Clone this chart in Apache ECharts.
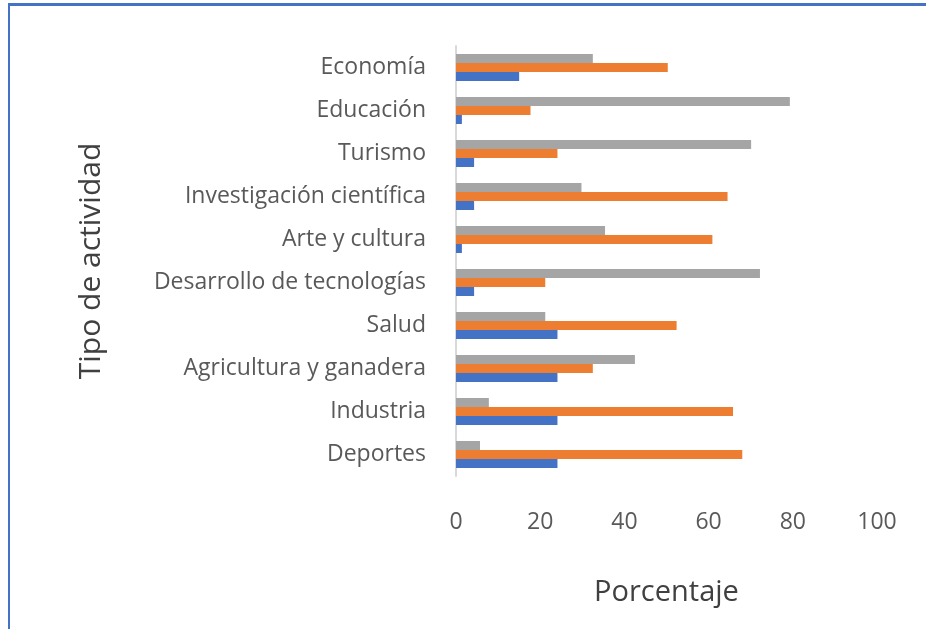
<!DOCTYPE html>
<html>
<head>
<meta charset="utf-8">
<script src="https://cdn.jsdelivr.net/npm/echarts@6/dist/echarts.min.js"></script>
<style>
  html, body { margin: 0; padding: 0; background: #fff; }
  #frame {
    position: absolute;
    left: 8px;
    top: 3px;
    width: 918px;
    height: 626px;
    border-left: 2px solid #4472C4;
    border-top: 3px solid #4472C4;
    box-sizing: border-box;
  }
  #main { position: absolute; left: 0; top: 0; width: 926px; height: 629px; }
</style>
</head>
<body>
<div id="frame"></div>
<div id="main"></div>
<script>
// categories bottom -> top, as in the original sheet
var categorias = ['Deportes', 'Industria', 'Agricultura y ganadera', 'Salud',
  'Desarrollo de tecnologías', 'Arte y cultura', 'Investigación científica',
  'Turismo', 'Educación', 'Economía'];
var serieAzul = [24.1, 24.1, 24.1, 24.1, 4.3, 1.4, 4.3, 4.3, 1.4, 15];
var serieNaranja = [68, 65.8, 32.5, 52.4, 21.2, 60.9, 64.5, 24.1, 17.7, 50.3];
var serieGris = [5.7, 7.8, 42.5, 21.2, 72.2, 35.4, 29.8, 70.1, 79.3, 32.5];
var ticksX = [0, 20, 40, 60, 80, 100];

var chartDom = document.getElementById('main');
var myChart = echarts.init(chartDom);
var option;

// echarts stacks the first series at the top of each group, so gray goes first
option = {
  animation: false,
  textStyle: { fontFamily: 'Open Sans' },
  grid: { left: 456, right: 49, top: 46, bottom: 153 },
  xAxis: {
    type: 'value',
    min: ticksX[0],
    max: ticksX[ticksX.length - 1],
    interval: 20,
    axisLine: { show: false },
    axisTick: { show: false },
    splitLine: { show: false },
    axisLabel: { color: '#595959', fontSize: 23, margin: 35 },
    name: 'Porcentaje',
    nameLocation: 'middle',
    nameGap: 102,
    nameTextStyle: { color: '#404040', fontSize: 29 }
  },
  yAxis: {
    type: 'category',
    data: categorias,
    axisLine: { lineStyle: { color: '#d9d9d9', width: 2 } },
    axisTick: { show: false },
    axisLabel: { color: '#595959', fontSize: 23, margin: 30, padding: [8, 0, 0, 0] },
    name: 'Tipo de actividad',
    nameLocation: 'middle',
    nameRotate: 90,
    nameGap: 350,
    nameTextStyle: { color: '#404040', fontSize: 30 }
  },
  series: [
    { type: 'bar', data: serieGris, barWidth: 9, barGap: '0%', itemStyle: { color: '#A5A5A5' } },
    { type: 'bar', data: serieNaranja, barWidth: 9, barGap: '0%', itemStyle: { color: '#ED7D31' } },
    { type: 'bar', data: serieAzul, barWidth: 9, barGap: '0%', itemStyle: { color: '#4472C4' } }
  ]
};

option && myChart.setOption(option);
</script>
</body>
</html>
